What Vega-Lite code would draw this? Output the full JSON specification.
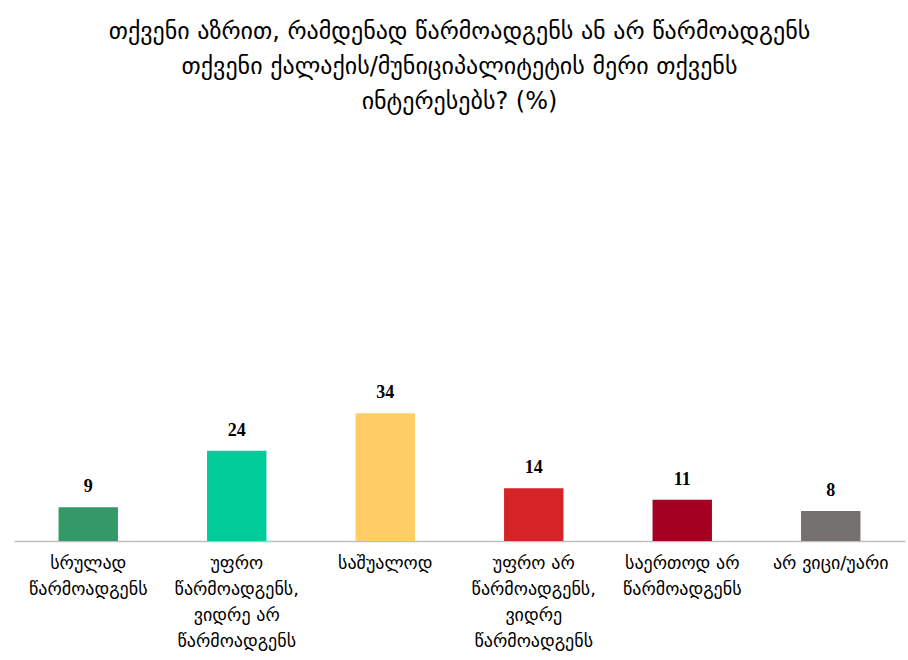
{
  "$schema": "https://vega.github.io/schema/vega-lite/v6.json",
  "autosize": "none",
  "width": 891,
  "height": 376,
  "padding": {"left": 14, "top": 165, "right": 3, "bottom": 119},
  "background": "white",
  "title": {
    "text": ["თქვენი აზრით, რამდენად წარმოადგენს ან არ წარმოადგენს", "თქვენი ქალაქის/მუნიციპალიტეტის მერი თქვენს", "ინტერესებს? (%)"],
    "anchor": "middle",
    "font": "DejaVu Sans",
    "fontSize": 24,
    "fontWeight": "normal",
    "color": "#000000",
    "lineHeight": 35,
    "offset": 51
  },
  "data": {
    "values": [
      {"answer": "სრულად\nწარმოადგენს", "value": 9, "color": "#339966"},
      {"answer": "უფრო\nწარმოადგენს,\nვიდრე არ\nწარმოადგენს", "value": 24, "color": "#00CC99"},
      {"answer": "საშუალოდ", "value": 34, "color": "#FFCC66"},
      {"answer": "უფრო არ\nწარმოადგენს,\nვიდრე\nწარმოადგენს", "value": 14, "color": "#D42428"},
      {"answer": "საერთოდ არ\nწარმოადგენს", "value": 11, "color": "#A50021"},
      {"answer": "არ ვიცი/უარი", "value": 8, "color": "#767171"}
    ]
  },
  "encoding": {
    "x": {
      "field": "answer",
      "type": "nominal",
      "sort": null,
      "scale": {"paddingInner": 0.6, "paddingOuter": 0.3},
      "axis": {
        "title": null,
        "labelAngle": 0,
        "labelExpr": "split(datum.label, '\\n')",
        "labelFont": "DejaVu Sans",
        "labelFontSize": 18,
        "labelColor": "#000000",
        "labelLineHeight": 26,
        "labelPadding": 13,
        "labelLimit": 200,
        "ticks": false,
        "domainColor": "#BFBFBF",
        "domainWidth": 1.5
      }
    },
    "y": {
      "field": "value",
      "type": "quantitative",
      "scale": {"domain": [0, 100]},
      "axis": null
    }
  },
  "layer": [
    {
      "mark": {"type": "bar"},
      "encoding": {
        "color": {"field": "color", "type": "nominal", "scale": null}
      }
    },
    {
      "mark": {
        "type": "text",
        "baseline": "bottom",
        "dy": -11,
        "font": "Liberation Serif",
        "fontSize": 18,
        "fontWeight": "bold",
        "color": "#000000"
      },
      "encoding": {
        "text": {"field": "value", "type": "quantitative"}
      }
    }
  ],
  "config": {
    "view": {"stroke": null}
  }
}
